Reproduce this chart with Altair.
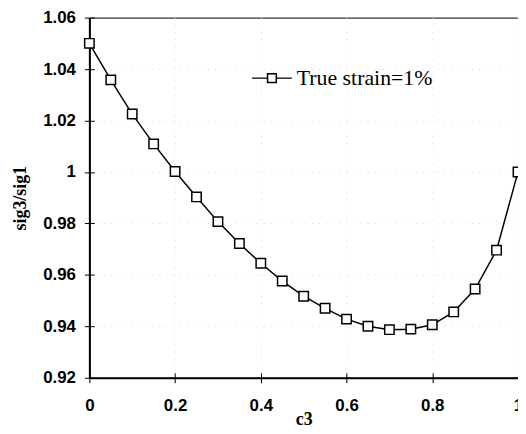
import altair as alt
import pandas as pd

c3 = [0.0, 0.05, 0.1, 0.15, 0.2, 0.25, 0.3, 0.35, 0.4, 0.45, 0.5,
      0.55, 0.6, 0.65, 0.7, 0.75, 0.8, 0.85, 0.9, 0.95, 1.0]
ratio = [1.0500, 1.0358, 1.0225, 1.0109, 1.0002, 0.9903, 0.9807, 0.9722, 0.9645, 0.9576, 0.9517,
         0.9470, 0.9428, 0.9400, 0.9387, 0.9389, 0.9406, 0.9456, 0.9545, 0.9696, 1.0000]
series = ["True strain=1%"] * len(c3)
x_ticks = [0, 0.2, 0.4, 0.6, 0.8, 1.0]
y_ticks = [0.92, 0.94, 0.96, 0.98, 1.0, 1.02, 1.04, 1.06]
x_grid = [0.2, 0.4, 0.6, 0.8]
y_grid = [0.94, 0.96, 0.98, 1.0, 1.02, 1.04]

df = pd.DataFrame({"c3": c3, "ratio": ratio, "series": series})

xs = alt.Scale(domain=[0, 1], nice=False, zero=False)
ys = alt.Scale(domain=[0.92, 1.06], nice=False, zero=False)

label_font = "Liberation Sans"
title_font = "Liberation Serif"

x_axis = alt.Axis(orient="bottom", values=x_ticks, labelExpr="format(datum.value, '.1~f')", title="c3",
                  tickSize=5, tickColor="black", domainColor="black", domainWidth=2,
                  labelFont=label_font, labelFontSize=17, labelFontWeight="bold", labelColor="black",
                  labelPadding=15, titleFont=title_font, titleFontSize=18, titleFontWeight="bold",
                  titleColor="black", titlePadding=-3, grid=False, labelFlush=False)
y_axis = alt.Axis(orient="left", values=y_ticks, labelExpr="format(datum.value, '.2~f')", title="sig3/sig1",
                  tickSize=5, tickColor="black", domainColor="black", domainWidth=2,
                  labelFont=label_font, labelFontSize=17, labelFontWeight="bold", labelColor="black",
                  labelPadding=9, titleFont=title_font, titleFontSize=18, titleFontWeight="bold",
                  titleColor="black", titlePadding=13, grid=False, labelFlush=False)

legend_path = ("M-1,0L-0.22,0M0.22,0L1,0"
               "M-0.22,-0.22L0.22,-0.22L0.22,0.22L-0.22,0.22Z")

line = alt.Chart(df).mark_line(strokeWidth=1.5).encode(
    x=alt.X("c3:Q", scale=xs, axis=x_axis),
    y=alt.Y("ratio:Q", scale=ys, axis=y_axis),
    color=alt.Color("series:N", scale=alt.Scale(range=["black"]),
                    legend=alt.Legend(title=None, orient="none", legendX=163, legendY=40,
                                      symbolType=legend_path, symbolSize=1600,
                                      symbolStrokeWidth=1.5, symbolFillColor="white",
                                      symbolStrokeColor="black",
                                      labelFont=title_font, labelFontSize=22,
                                      labelColor="black", labelOffset=4, padding=0)),
)

grid_layer = alt.Chart(df).mark_point(opacity=0).encode(
    x=alt.X("c3:Q", scale=xs,
            axis=alt.Axis(orient="bottom", values=x_grid, labels=False, domain=False, ticks=False,
                          title=None, grid=True, gridColor="#d9d9d9", gridDash=[1, 6])),
    y=alt.Y("ratio:Q", scale=ys,
            axis=alt.Axis(orient="left", values=y_grid, labels=False, domain=False, ticks=False,
                          title=None, grid=True, gridColor="#d9d9d9", gridDash=[1, 6])),
)

points = alt.Chart(df).mark_point(shape="square", filled=True, fill="white", stroke="black",
                                  strokeWidth=1.5, size=90, opacity=1).encode(
    x=alt.X("c3:Q", scale=xs, axis=None),
    y=alt.Y("ratio:Q", scale=ys, axis=None),
)

inner_ticks = alt.Chart(df).mark_point(opacity=0).encode(
    x=alt.X("c3:Q", scale=xs,
            axis=alt.Axis(orient="bottom", values=x_ticks, labels=False, domain=False,
                          title=None, tickSize=5, offset=-5, tickColor="black", grid=False)),
    y=alt.Y("ratio:Q", scale=ys,
            axis=alt.Axis(orient="left", values=y_ticks, labels=False, domain=False,
                          title=None, tickSize=5, offset=-5, tickColor="black", grid=False)),
)

chart = alt.layer(line, grid_layer, points, inner_ticks).resolve_axis(
    x="independent", y="independent").properties(
    width=432, height=363,
    autosize=alt.AutoSizeParams(type="none"),
    padding={"left": 82, "top": 8, "right": 0, "bottom": 56},
).configure_view(stroke="black", strokeWidth=1)

chart.save("out.html", embed_options={"renderer": "svg", "actions": False})
